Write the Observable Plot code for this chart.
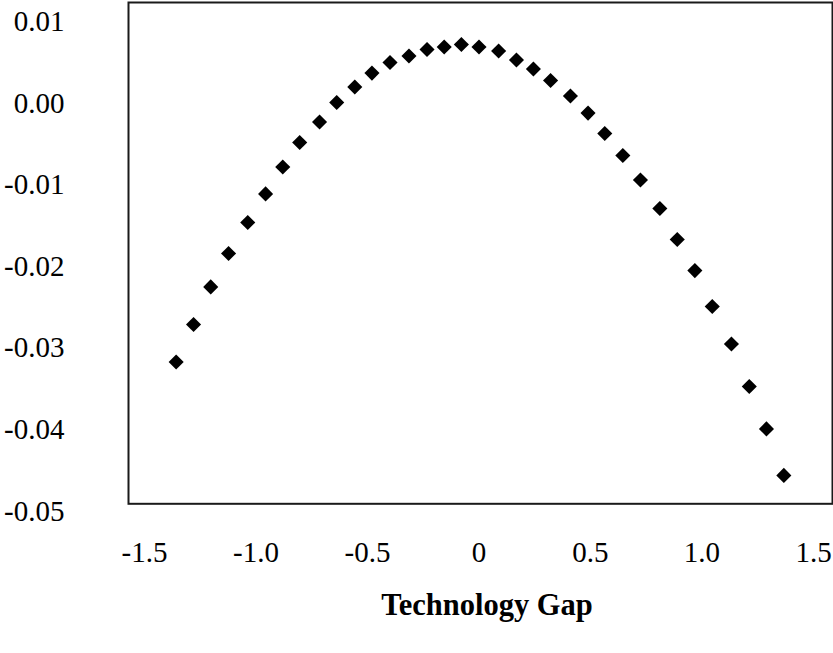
<!DOCTYPE html>
<html>
<head>
<meta charset="utf-8">
<script src="https://cdn.jsdelivr.net/npm/d3@7"></script>
<script src="https://cdn.jsdelivr.net/npm/@observablehq/plot@0.6"></script>
<style>
  html, body { margin: 0; padding: 0; background: white; }
  #wrap { position: relative; width: 833px; height: 653px; overflow: hidden; }
  #xlabel { position: absolute; top: 590px; left: 287px; width: 400px; text-align: center;
    font-family: 'Liberation Serif', 'Times New Roman', serif; font-weight: bold; font-size: 30.5px; line-height: 30.5px; color: black; }
</style>
</head>
<body>
<div id="wrap"><div id="chart"></div><div id="xlabel">Technology Gap</div></div>
<script>
const gapValues = [-1.358, -1.280, -1.203, -1.123, -1.037, -0.957, -0.880, -0.804, -0.715, -0.638,
  -0.557, -0.480, -0.399, -0.314, -0.233, -0.156, -0.079, 0.000, 0.088, 0.168,
  0.244, 0.321, 0.410, 0.489, 0.564, 0.645, 0.724, 0.811, 0.889, 0.968,
  1.046, 1.132, 1.212, 1.289, 1.367];
const effectValues = [-0.0317, -0.0271, -0.0225, -0.0184, -0.0146, -0.0111, -0.0078, -0.0048, -0.0023, 0.0001,
  0.0020, 0.0037, 0.0050, 0.0058, 0.0066, 0.0069, 0.0072, 0.0069, 0.0064, 0.0053,
  0.0042, 0.0028, 0.0009, -0.0012, -0.0037, -0.0064, -0.0094, -0.0129, -0.0167, -0.0205,
  -0.0249, -0.0295, -0.0347, -0.0399, -0.0456];
const xTicks = [-1.5, -1.0, -0.5, 0, 0.5, 1.0, 1.5];
const xTickLabels = ["-1.5", "-1.0", "-0.5", "0", "0.5", "1.0", "1.5"];
const yTicks = [0.01, 0.00, -0.01, -0.02, -0.03, -0.04, -0.05];
const yTickLabels = ["0.01", "0.00", "-0.01", "-0.02", "-0.03", "-0.04", "-0.05"];

const data = gapValues.map((x, i) => ({x, y: effectValues[i]}));

const chart = Plot.plot({
  width: 833,
  height: 580,
  marginLeft: 128,
  marginRight: 1,
  marginTop: 2,
  marginBottom: 69.2,
  style: {fontFamily: "'Liberation Serif', 'Times New Roman', serif", fontSize: "29px", background: "white", color: "black"},
  x: {domain: [-1.5717, 1.5852]},
  y: {domain: [-0.05, 0.012353]},
  marks: [
    Plot.frame({stroke: "#1a1a1a", strokeWidth: 2, insetBottom: 7.5}),
    Plot.dot(data, {x: "x", y: "y", symbol: "diamond2", r: 6.8, fill: "black", stroke: "none"}),
    Plot.axisX({ticks: xTicks, tickFormat: (d) => xTickLabels[xTicks.indexOf(d)], tickSize: 0, tickPadding: 30.6, label: null}),
    Plot.axisY({ticks: yTicks, tickFormat: (d) => yTickLabels[yTicks.indexOf(d)], tickSize: 0, tickPadding: 64, label: null})
  ]
});
document.getElementById("chart").appendChild(chart);
</script>
</body>
</html>
